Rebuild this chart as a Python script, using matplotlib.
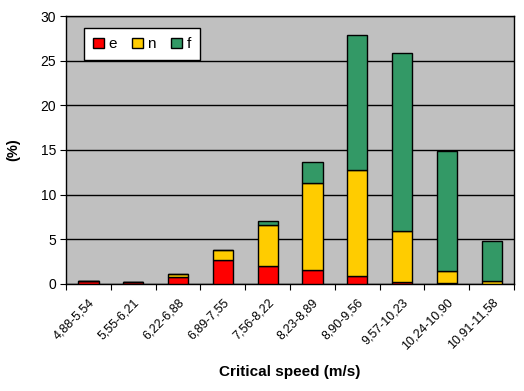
import matplotlib
matplotlib.use("Agg")
import matplotlib.pyplot as plt
import numpy as np

plt.rcParams["font.family"] = ["Liberation Sans", "DejaVu Sans"]

# ── data ───────────────────────────────────────────────────────────────────
categories = ["4,88-5,54", "5,55-6,21", "6,22-6,88", "6,89-7,55", "7,56-8,22",
              "8,23-8,89", "8,90-9,56", "9,57-10,23", "10,24-10,90", "10,91-11,58"]
e_vals = [0.35, 0.2, 0.8, 2.65, 2.0, 1.55, 0.9, 0.2, 0.1, 0.0]
n_vals = [0.0, 0.0, 0.3, 1.15, 4.55, 9.75, 11.8, 5.7, 1.35, 0.3]
f_vals = [0.0, 0.0, 0.0, 0.0, 0.5, 2.3, 15.15, 20.0, 13.4, 4.5]

C_E = "#FF0000"
C_N = "#FFCC00"
C_F = "#339966"

# ── canvas ─────────────────────────────────────────────────────────────────
fig = plt.figure(figsize=(5.24, 3.91), dpi=100)
fig.patch.set_facecolor("white")
ax = fig.add_axes([0.126, 0.274, 0.855, 0.685])
ax.set_facecolor("#C0C0C0")

x = np.arange(len(categories))
e = np.array(e_vals)
n = np.array(n_vals)
f = np.array(f_vals)
w = 0.45
kw = dict(width=w, edgecolor="black", linewidth=1.0, zorder=3)
ax.bar(x, e, color=C_E, label="e", **kw)
ax.bar(x, n, bottom=e, color=C_N, label="n", **kw)
ax.bar(x, f, bottom=e + n, color=C_F, label="f", **kw)

ax.set_xlim(-0.5, len(categories) - 0.5)
ax.set_ylim(0, 30)
ax.set_yticks(range(0, 31, 5))
ax.yaxis.grid(True, color="black", lw=1.0, zorder=1)
ax.set_axisbelow(True)

# ticks at category boundaries, labels at centres
ax.set_xticks(np.arange(-0.5, len(categories), 1.0))
ax.set_xticklabels([])
ax.set_xticks(x, minor=True)
ax.set_xticklabels(categories, minor=True, rotation=45, ha="right",
                   rotation_mode="anchor", fontsize=9)
ax.tick_params(axis="x", which="minor", length=0, pad=9)
ax.tick_params(axis="x", which="major", length=4, direction="out")
ax.tick_params(axis="y", length=4, direction="out", labelsize=10, pad=3)

for s in ax.spines.values():
    s.set_color("black")
    s.set_linewidth(1.0)

ax.set_xlabel("Critical speed (m/s)", fontsize=11, fontweight="bold", labelpad=9)
ax.set_ylabel("(%)", fontsize=10.5, fontweight="bold")
ax.yaxis.set_label_coords(-0.103, 0.5)

leg = ax.legend(loc="upper left", ncol=3, fontsize=11, frameon=True, fancybox=False,
                edgecolor="black", framealpha=1.0, handlelength=0.7, handleheight=0.7,
                handletextpad=0.3, columnspacing=1.0, borderpad=0.6, borderaxespad=0,
                bbox_to_anchor=(0.04, 0.955))
leg.get_frame().set_linewidth(1.0)

fig.savefig("out.png", dpi=100, facecolor="white")
